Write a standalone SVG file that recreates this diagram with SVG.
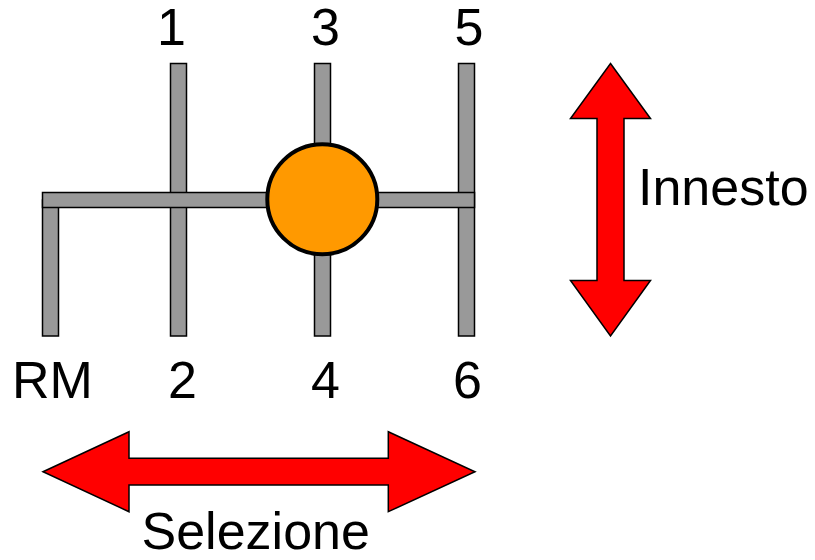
<svg xmlns="http://www.w3.org/2000/svg" width="815" height="560" viewBox="0 0 815 560">
<style>
.bar{fill:#999999;stroke:#000;stroke-width:1.5}
.arr{fill:#FF0000;stroke:#000;stroke-width:1.5;stroke-linejoin:miter}
.lbl{font-family:"Liberation Sans",Arial,sans-serif;font-size:52px;fill:#000}
</style>
<rect width="815" height="560" fill="#fff"/>
<g id="gate">
<rect class="bar" x="42.5" y="200" width="16" height="136"/>
<rect class="bar" x="170.5" y="63.5" width="16" height="272.5"/>
<rect class="bar" x="314.5" y="63.5" width="16" height="272.5"/>
<rect class="bar" x="458.5" y="63.5" width="16" height="272.5"/>
<rect class="bar" x="42.5" y="192.5" width="432" height="15"/>
</g>
<g id="knob">
<circle cx="322.3" cy="199.3" r="55" fill="#FF9900" stroke="#000" stroke-width="4"/>
</g>
<g id="labels">
<text class="lbl" x="157" y="45">1</text>
<text class="lbl" x="311" y="45">3</text>
<text class="lbl" x="454.5" y="45">5</text>
<text class="lbl" x="12" y="398">RM</text>
<text class="lbl" x="168" y="398">2</text>
<text class="lbl" x="311" y="398">4</text>
<text class="lbl" x="453" y="398">6</text>
</g>
<g id="innesto">
<polygon class="arr" points="610.5,63.5 650.5,118.5 624,118.5 624,280.5 650.5,280.5 610.5,336 570.5,280.5 597,280.5 597,118.5 570.5,118.5"/>
<text class="lbl" x="638" y="205">Innesto</text>
</g>
<g id="selezione">
<polygon class="arr" points="43,471.7 129,431.7 129,458.3 388.3,458.3 388.3,431.7 475,471.7 388.3,511.7 388.3,485 129,485 129,511.7"/>
<text class="lbl" x="141.5" y="549">Selezione</text>
</g>
</svg>
